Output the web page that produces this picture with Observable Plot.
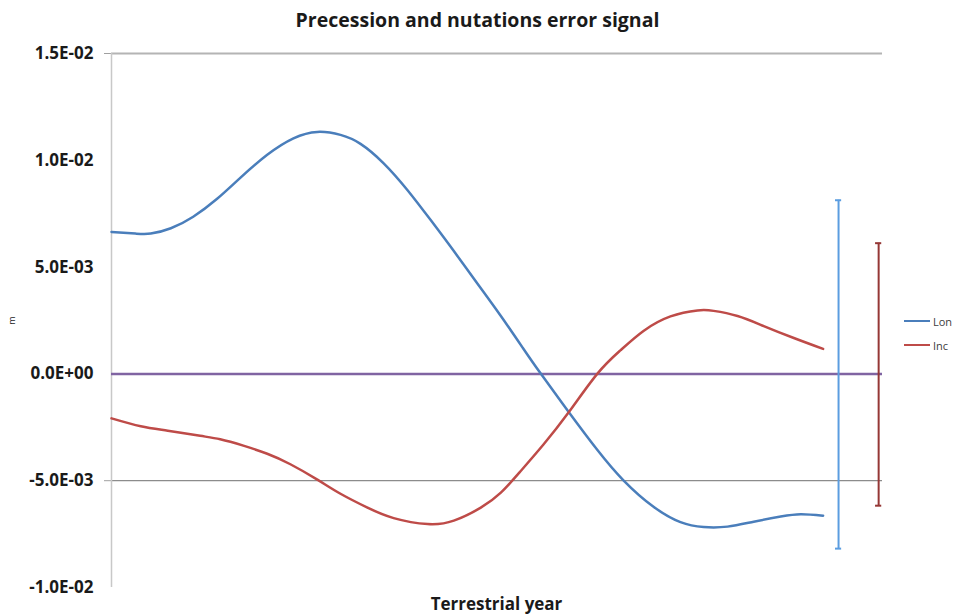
<!DOCTYPE html>
<html>
<head>
<meta charset="utf-8">
<script src="https://cdn.jsdelivr.net/npm/d3@7"></script>
<script src="https://cdn.jsdelivr.net/npm/@observablehq/plot@0.6"></script>
<style>
  body { margin: 0; background: #fff; }
  #wrap { position: relative; width: 955px; height: 615px; font-family: "Open Sans", sans-serif; color: #1a1a1a; overflow: hidden; }
  #title { height: 40px; line-height: 40px; text-align: center; font-weight: bold; font-size: 19.5px; }
  #xlabel { position: absolute; left: 111px; width: 771px; top: 592px; height: 23px; line-height: 23px; text-align: center; font-weight: bold; font-size: 17px; }
  #legend { position: absolute; left: 904px; top: 309px; font-size: 11px; color: #404040; }
  .item { display: flex; align-items: center; height: 24px; }
  .sw { width: 26px; height: 2.5px; margin-right: 3px; }
</style>
</head>
<body>
<div id="wrap">
  <div id="title">Precession and nutations error signal</div>
  <div id="chart"></div>
  <div id="xlabel">Terrestrial year</div>
  <div id="legend"></div>
</div>
<script>
// ---- data (x: position along the year span, 0–100; y: metres) ----
const tLon = [0, 3.1, 5.1, 7.7, 10.6, 13.7, 16.7, 20.2, 23.6, 26.7, 29.7, 32.3, 35.3, 38.4, 41.4, 44.4, 47.5, 50.5, 53.4, 55.6, 59.3, 63.0, 66.4, 70.3, 73.8, 76.8, 79.9, 83.3, 86.8, 89.4, 92.3];
const lon  = [0.00664, 0.00657, 0.00657, 0.00682, 0.00736, 0.00820, 0.00918, 0.01026, 0.01103, 0.01133, 0.01119, 0.01077, 0.00986, 0.00860, 0.00720, 0.00575, 0.00421, 0.00271, 0.00119, 0.00005, -0.00178, -0.00355, -0.00498, -0.00622, -0.00694, -0.00717, -0.00715, -0.00692, -0.00668, -0.00657, -0.00664];
const tInc = [0, 3.8, 7.3, 11.5, 14.1, 17.1, 20.2, 23.2, 26.7, 29.7, 33.2, 36.6, 41.0, 44.4, 47.9, 50.5, 53.0, 56.0, 59.3, 63.0, 66.0, 69.0, 72.5, 76.0, 78.1, 81.2, 84.6, 88.5, 92.3];
const inc  = [-0.00208, -0.00245, -0.00266, -0.00290, -0.00306, -0.00336, -0.00374, -0.00423, -0.00495, -0.00561, -0.00626, -0.00675, -0.00703, -0.00687, -0.00626, -0.00556, -0.00458, -0.00332, -0.00180, 0, 0.00110, 0.00201, 0.00269, 0.00297, 0.00295, 0.00271, 0.00224, 0.00168, 0.00117];
const seriesNames = ["Lon", "Inc"];
const errSeries = ["Lon", "Inc"];
const errX    = [94.3, 99.5];
const errLow  = [-0.00818, -0.00617];
const errHigh = [0.00813, 0.00612];
const yTicks = [-0.01, -0.005, 0, 0.005, 0.01, 0.015];
const gridValues = [0.015, -0.005];

// ---- styles ----
const lineColor = {Lon: "#4a7ebb", Inc: "#be4b48"};
const errColor  = {Lon: "#5b9de0", Inc: "#953735"};

const lonData = tLon.map((t, i) => ({t, v: lon[i], s: "Lon"}));
const incData = tInc.map((t, i) => ({t, v: inc[i], s: "Inc"}));
const errData = errX.map((x, i) => ({x, lo: errLow[i], hi: errHigh[i], s: errSeries[i]}));

function sci(v) {
  if (v === 0) return "0.0E+00";
  const e = Math.floor(Math.log10(Math.abs(v)) + 1e-9);
  const m = v / Math.pow(10, e);
  return m.toFixed(1) + "E" + (e < 0 ? "-" : "+") + String(Math.abs(e)).padStart(2, "0");
}

const capHalf = 0.4;
const plot = Plot.plot({
  width: 955,
  height: 575,
  marginLeft: 111,
  marginRight: 73,
  marginTop: 13,
  marginBottom: 28,
  style: {fontFamily: "Open Sans, sans-serif", color: "#1a1a1a", background: "white"},
  x: {domain: [0, 100], axis: null},
  y: {domain: [-0.01, 0.015]},
  marks: [
    Plot.ruleY([gridValues[0]], {stroke: "#b4b4b4", strokeWidth: 2}),
    Plot.ruleY([gridValues[1]], {stroke: "#8c8c8c", strokeWidth: 1.2}),
    Plot.axisY({ticks: gridValues, tickSize: 7, stroke: "#a0a0a0", text: null, label: null}),
    Plot.axisY({ticks: yTicks, tickSize: 0, tickPadding: 18, tickFormat: sci, fontSize: 17, fontWeight: "bold", label: null}),
    Plot.axisY({ticks: [], label: "m", labelArrow: false, labelAnchor: "center", labelOffset: 103, fontSize: 9}),
    Plot.ruleX([0], {stroke: "#c8c8c8", strokeWidth: 1.5}),
    Plot.ruleY([0], {stroke: "#8064a2", strokeWidth: 2.5}),
    Plot.line(lonData, {x: "t", y: "v", stroke: lineColor.Lon, strokeWidth: 2.5, curve: "natural"}),
    Plot.line(incData, {x: "t", y: "v", stroke: lineColor.Inc, strokeWidth: 2.5, curve: "natural"}),
    Plot.ruleX(errData, {x: "x", y1: "lo", y2: "hi", stroke: d => errColor[d.s], strokeWidth: 2}),
    Plot.ruleY(errData, {y: "hi", x1: d => d.x - capHalf, x2: d => d.x + capHalf, stroke: d => errColor[d.s], strokeWidth: 2}),
    Plot.ruleY(errData, {y: "lo", x1: d => d.x - capHalf, x2: d => d.x + capHalf, stroke: d => errColor[d.s], strokeWidth: 2})
  ]
});
document.getElementById("chart").appendChild(plot);

const legend = document.getElementById("legend");
for (const s of seriesNames) {
  const item = document.createElement("div");
  item.className = "item";
  item.innerHTML = `<span class="sw" style="background:${lineColor[s]}"></span><span>${s}</span>`;
  legend.appendChild(item);
}
</script>
</body>
</html>
